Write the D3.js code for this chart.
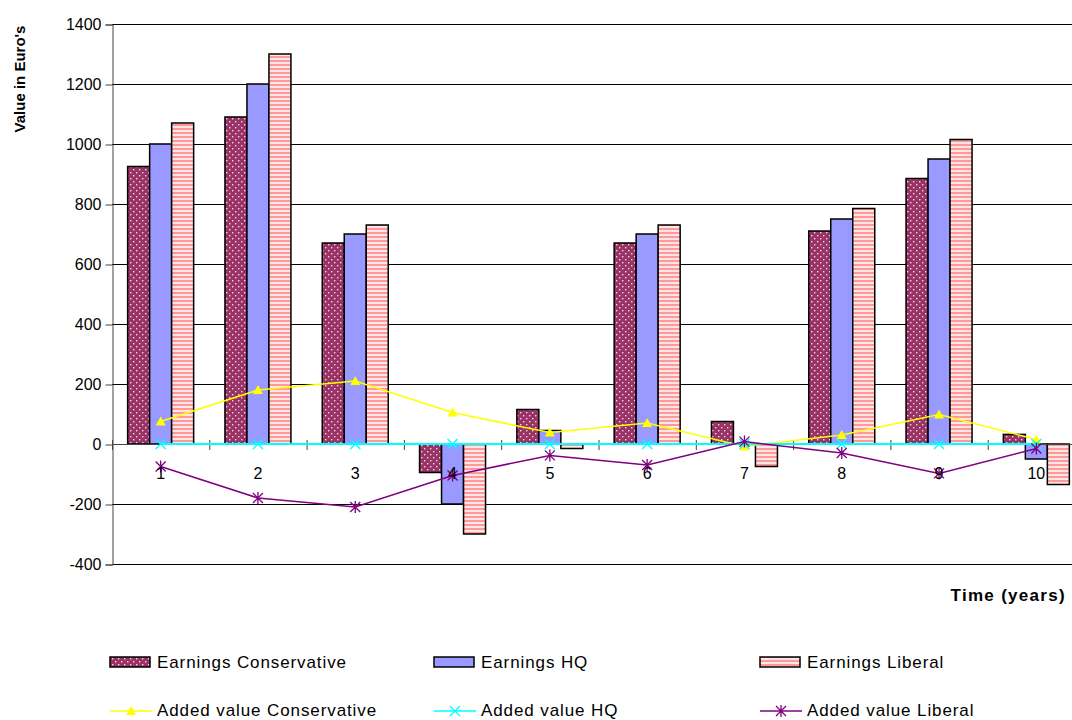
<!DOCTYPE html>
<html>
<head>
<meta charset="utf-8">
<script src="https://cdn.jsdelivr.net/npm/d3@7"></script>
<style>
body { margin: 0; background: #fff; }
svg { display: block; font-family: "Liberation Sans", Arial, sans-serif; }
</style>
</head>
<body>
<svg id="chart" width="1072" height="720"></svg>
<script>
// data
var years = [1, 2, 3, 4, 5, 6, 7, 8, 9, 10];
var earnCons = [925, 1090, 670, -95, 115, 670, 75, 710, 885, 32];
var earnHQ   = [1000, 1200, 700, -200, 45, 700, 0, 750, 950, -50];
var earnLib  = [1070, 1300, 730, -300, -15, 730, -75, 785, 1015, -135];
var addCons  = [75, 180, 210, 105, 38, 70, -8, 30, 98, 15];
var addHQ    = [0, 0, 0, 0, 0, 0, 0, 0, 0, 0];
var addLib   = [-75, -180, -210, -105, -38, -70, 8, -30, -98, -15];
var yTicks   = [-400, -200, 0, 200, 400, 600, 800, 1000, 1200, 1400];

var svg = d3.select("#chart");
var plotL = 112, plotR = 1085, plotT = 24, plotB = 564;

var x0 = d3.scaleBand().domain(years).range([plotL, plotR]).padding(0);
var groupW = 66;
var x1 = d3.scaleBand().domain([0, 1, 2]).range([0, groupW]).padding(0);
var y = d3.scaleLinear().domain([-400, 1400]).range([plotB, plotT]);

// patterns
var defs = svg.append("defs");
var dots = defs.append("pattern").attr("id", "dots").attr("patternUnits", "userSpaceOnUse")
  .attr("width", 6).attr("height", 6);
dots.append("rect").attr("width", 6).attr("height", 6).attr("fill", "#993366");
dots.append("rect").attr("x", 1).attr("y", 1).attr("width", 1.4).attr("height", 1.4).attr("fill", "#f3d6e4");
dots.append("rect").attr("x", 4).attr("y", 4).attr("width", 1.4).attr("height", 1.4).attr("fill", "#f3d6e4");

var stripes = defs.append("pattern").attr("id", "stripes").attr("patternUnits", "userSpaceOnUse")
  .attr("width", 4).attr("height", 4);
stripes.append("rect").attr("width", 4).attr("height", 4).attr("fill", "#ff9999");
stripes.append("rect").attr("y", 2).attr("width", 4).attr("height", 2).attr("fill", "#ffe6e6");

// gridlines
svg.append("g").selectAll("line").data(yTicks).enter().append("line")
  .attr("x1", plotL).attr("x2", plotR)
  .attr("y1", d => Math.round(y(d)) + 0.5).attr("y2", d => Math.round(y(d)) + 0.5)
  .attr("stroke", d => d == 0 ? "none" : "#000").attr("stroke-width", 1);

// y axis
var yAxis = d3.axisLeft(y).tickValues(yTicks).tickSize(7).tickPadding(4).tickFormat(d => String(d));
var ya = svg.append("g").attr("transform", "translate(" + (plotL + 0.5) + ",0.5)").call(yAxis);
ya.select(".domain").attr("stroke", "#444");
ya.selectAll(".tick line").attr("stroke", "#444");
ya.selectAll("text").attr("font-size", 16).attr("fill", "#000")
  .attr("font-family", "Liberation Sans, Arial, sans-serif");

// bars
var seriesBars = [
  { name: "Earnings Conservative", vals: earnCons, fill: "url(#dots)" },
  { name: "Earnings HQ", vals: earnHQ, fill: "#9999ff" },
  { name: "Earnings Liberal", vals: earnLib, fill: "url(#stripes)" }
];
var off = (x0.bandwidth() - groupW) / 2;
seriesBars.forEach(function (s, si) {
  svg.append("g").selectAll("rect").data(s.vals).enter().append("rect")
    .attr("x", (d, i) => x0(years[i]) + off + x1(si))
    .attr("width", x1.bandwidth())
    .attr("y", d => y(Math.max(0, d)))
    .attr("height", d => Math.abs(y(d) - y(0)))
    .attr("fill", s.fill)
    .attr("stroke", "#000").attr("stroke-width", 1.5);
});

// x axis line and ticks
svg.append("line").attr("x1", plotL).attr("x2", plotR).attr("y1", y(0) + 0.5).attr("y2", y(0) + 0.5)
  .attr("stroke", "#444");
svg.append("g").selectAll("line").data(d3.range(years.length + 1)).enter().append("line")
  .attr("x1", d => plotL + d * x0.step() + 0.5).attr("x2", d => plotL + d * x0.step() + 0.5)
  .attr("y1", y(0) - 4).attr("y2", y(0) + 6).attr("stroke", "#444");

// lines
function triangle(g, c) {
  g.append("path").attr("d", "M0,-5L5,4L-5,4Z").attr("fill", c);
}
function cross(g, c) {
  g.append("path").attr("d", "M-5,-5L5,5M-5,5L5,-5").attr("stroke", c).attr("stroke-width", 1.3);
}
function star(g, c) {
  g.append("path").attr("d", "M-5,-5L5,5M-5,5L5,-5M0,-6L0,6").attr("stroke", c).attr("stroke-width", 1.3);
}
var seriesLines = [
  { name: "Added value Conservative", vals: addCons, color: "#ffff00", mark: triangle },
  { name: "Added value HQ", vals: addHQ, color: "#00ffff", mark: cross },
  { name: "Added value Liberal", vals: addLib, color: "#800080", mark: star }
];
var cx = i => x0(years[i]) + x0.bandwidth() / 2;
seriesLines.forEach(function (s) {
  var line = d3.line().x((d, i) => cx(i)).y(d => y(d));
  svg.append("path").datum(s.vals).attr("d", line).attr("fill", "none")
    .attr("stroke", s.color).attr("stroke-width", s.color == "#00ffff" ? 2 : 1.5);
  s.vals.forEach(function (v, i) {
    var g = svg.append("g").attr("transform", "translate(" + cx(i) + "," + y(v) + ")");
    s.mark(g, s.color);
  });
});

// category labels
svg.append("g").selectAll("text").data(years).enter().append("text")
  .attr("x", d => x0(d) + x0.bandwidth() / 2).attr("y", y(0) + 35)
  .attr("text-anchor", "middle").attr("font-size", 16).text(d => d);

// axis titles
svg.append("text").attr("x", 1066).attr("y", 601).attr("text-anchor", "end")
  .attr("font-size", 17).attr("letter-spacing", 1.3).attr("font-weight", "bold").text("Time (years)");
svg.append("text").attr("transform", "translate(25,79) rotate(-90)").attr("text-anchor", "middle")
  .attr("font-size", 15).attr("font-weight", "bold").text("Value in Euro's");

// legend
var legX = [110, 434, 760];
seriesBars.forEach(function (s, i) {
  svg.append("rect").attr("x", legX[i]).attr("y", 657).attr("width", 40).attr("height", 10)
    .attr("fill", s.fill).attr("stroke", "#000").attr("stroke-width", 1.5);
  svg.append("text").attr("x", legX[i] + 47).attr("y", 668).attr("font-size", 17)
    .attr("letter-spacing", 0.9).text(s.name);
});
seriesLines.forEach(function (s, i) {
  svg.append("line").attr("x1", legX[i]).attr("x2", legX[i] + 42).attr("y1", 711).attr("y2", 711)
    .attr("stroke", s.color).attr("stroke-width", 1.5);
  var g = svg.append("g").attr("transform", "translate(" + (legX[i] + 21) + ",711)");
  s.mark(g, s.color);
  svg.append("text").attr("x", legX[i] + 47).attr("y", 716).attr("font-size", 17)
    .attr("letter-spacing", 0.9).text(s.name);
});
</script>
</body>
</html>
